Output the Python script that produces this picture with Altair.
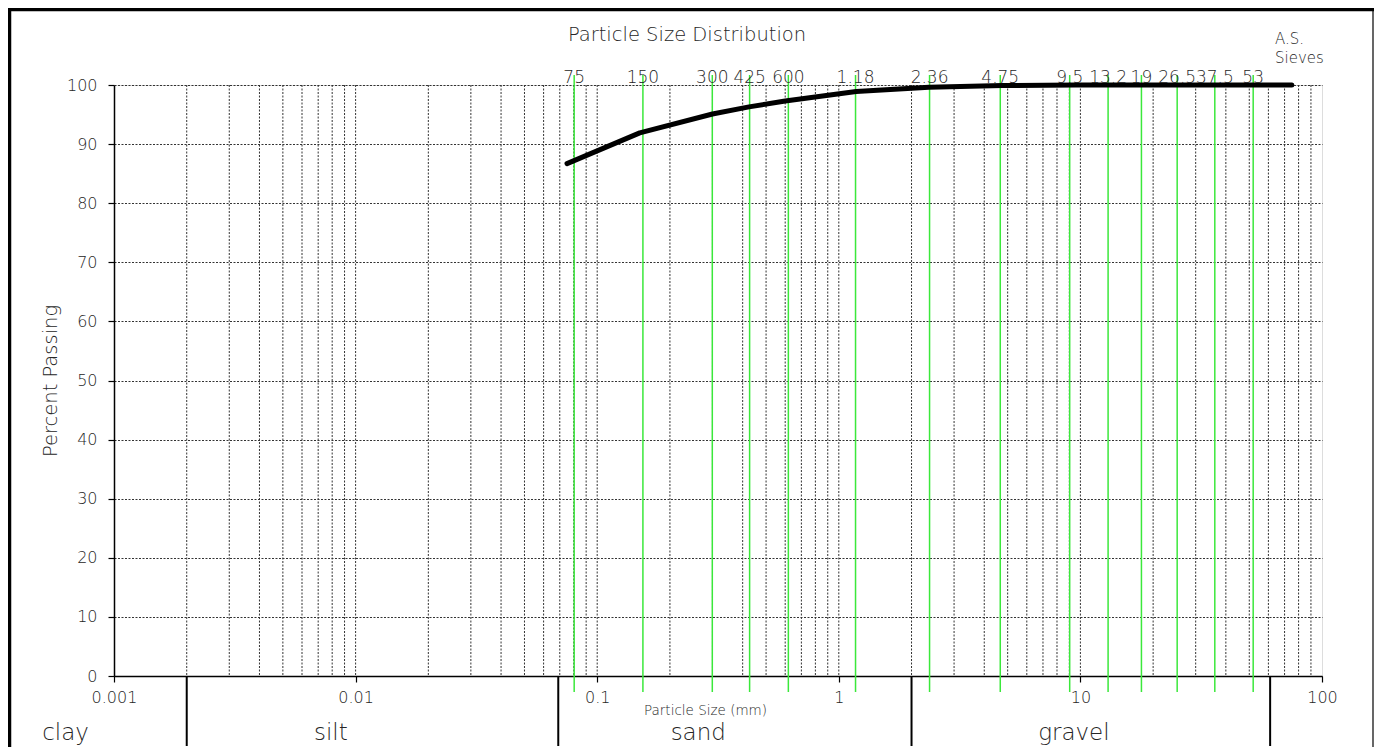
import json
import altair as alt
import pandas as pd

# ---------------- data ----------------
size_mm = [0.075, 0.15, 0.3, 0.425, 0.6, 1.18, 2.36, 4.75, 9.5, 13.2, 19, 26.5, 37.5, 53, 75]
pct_passing = [86.7, 91.9, 95.1, 96.3, 97.3, 98.9, 99.6, 99.9, 100, 100, 100, 100, 100, 100, 100]

sieve_labels = ["75", "150", "300", "425", "600", "1.18", "2.36", "4.75",
                "9.5", "13.2", "19", "26.5", "37.5", "53"]
sieve_line_mm = [0.0803, 0.1546, 0.2995, 0.4274, 0.6183, 1.173, 2.375, 4.659,
                 9.03, 13.02, 17.89, 25.15, 36.0, 51.9]

zone_names = ["clay", "silt", "sand", "gravel"]
zone_label_mm = [0.00063, 0.0079, 0.262, 9.4]
zone_bounds_mm = [0.002, 0.069, 2, 61]

decade_ticks = [0.001, 0.01, 0.1, 1, 10, 100]
decade_labels = ["0.001", "0.01", "0.1", "1", "10", "100"]
grid_mm = [0.002, 0.003, 0.004, 0.005, 0.006, 0.007, 0.008, 0.009,
           0.01, 0.02, 0.03, 0.04, 0.05, 0.06, 0.07, 0.08, 0.09,
           0.1, 0.2, 0.3, 0.4, 0.5, 0.6, 0.7, 0.8, 0.9,
           1, 2, 3, 4, 5, 6, 7, 8, 9,
           10, 20, 30, 40, 50, 60, 70, 80, 90]
pct_ticks = [0, 10, 20, 30, 40, 50, 60, 70, 80, 90, 100]

title_text = "Particle Size Distribution"
legend_text = "A.S.\nSieves"

# ---------------- styling ----------------
FONT = "DejaVu Sans"
FW = 200
TXT = "#262626"
W, H = 1208, 591

label_expr = "indexof({v}, datum.value) >= 0 ? {l}[indexof({v}, datum.value)] : ''".format(
    v=json.dumps(decade_ticks), l=json.dumps(decade_labels))

xscale = alt.Scale(type="log", domain=[0.001, 100], nice=False)
xaxis = alt.Axis(values=decade_ticks, labelExpr=label_expr, grid=False,
                 tickSize=6, tickColor="black", tickWidth=1.2,
                 domainColor="black", domainWidth=1.5,
                 labelFont=FONT, labelFontSize=16, labelFontWeight=FW, labelColor=TXT,
                 labelPadding=7, labelOverlap=False, labelFlush=False,
                 title="Particle Size (mm)", titleFont=FONT, titleFontSize=13.5,
                 titleFontWeight=FW, titleColor=TXT, titleX=591, titleY=34,
                 titleBaseline="middle", titleAlign="center")
yscale = alt.Scale(domain=[0, 100], nice=False, zero=True)
yaxis = alt.Axis(values=pct_ticks, grid=True, gridDash=[2, 1.5], gridColor="#333",
                 gridWidth=1, tickSize=6, tickColor="black", tickWidth=1.2,
                 domainColor="black", domainWidth=1.5,
                 labelFont=FONT, labelFontSize=16, labelFontWeight=FW, labelColor=TXT,
                 labelPadding=11,
                 title="Percent Passing", titleFont=FONT, titleFontSize=19.5,
                 titleFontWeight=FW, titleColor=TXT, titleX=-64, titleY=H / 2,
                 titleAngle=-90, titleBaseline="middle", titleAlign="center")

X = alt.X("mm:Q", scale=xscale, axis=xaxis)

curve_df = pd.DataFrame({"mm": size_mm, "pct": pct_passing})
sieve_df = pd.DataFrame({"mm": sieve_line_mm, "label": sieve_labels})
grid_df = pd.DataFrame({"mm": grid_mm})
bounds_df = pd.DataFrame({"mm": zone_bounds_mm})
zones_df = pd.DataFrame({"mm": zone_label_mm, "zone": zone_names})
one = pd.DataFrame({"t": [0]})

grid_v = alt.Chart(grid_df).mark_rule(strokeDash=[2, 1.5], color="#333", strokeWidth=1).encode(
    x=X, y=alt.value(0), y2=alt.value(H))

green = alt.Chart(sieve_df).mark_rule(color="#3be83b", strokeWidth=1.5).encode(
    x=X, y=alt.value(-10), y2=alt.value(H + 16))

sieve_txt = alt.Chart(sieve_df).mark_text(font=FONT, fontSize=17, fontWeight=FW, color=TXT,
                                          baseline="alphabetic").encode(
    x=X, y=alt.value(-2), text="label:N")

curve = alt.Chart(curve_df).mark_line(color="black", strokeWidth=5, strokeCap="round",
                                      strokeJoin="round").encode(
    x=X, y=alt.Y("pct:Q", scale=yscale, axis=yaxis))

bounds = alt.Chart(bounds_df).mark_rule(color="black", strokeWidth=2).encode(
    x=X, y=alt.value(H + 1), y2=alt.value(H + 70))

zones = alt.Chart(zones_df).mark_text(font=FONT, fontSize=23, fontWeight=FW, color=TXT,
                                      baseline="alphabetic").encode(
    x=X, y=alt.value(655), text="zone:N")

title = alt.Chart(one).mark_text(font=FONT, fontSize=19.5, fontWeight=FW, color=TXT,
                                 baseline="middle", text=title_text).encode(
    x=alt.value(573), y=alt.value(-50))

legend = alt.Chart(one).mark_text(font=FONT, fontSize=15, fontWeight=FW, color=TXT,
                                  align="left", baseline="top", lineBreak="\n", lineHeight=19,
                                  text=legend_text).encode(
    x=alt.value(1161), y=alt.value(-53))

frame_top = alt.Chart(one).mark_rule(color="black", strokeWidth=3.5).encode(
    x=alt.value(-106), x2=alt.value(1260), y=alt.value(-75.5))
frame_left = alt.Chart(one).mark_rule(color="black", strokeWidth=3.5).encode(
    x=alt.value(-104.5), y=alt.value(-77), y2=alt.value(662))
frame_right = alt.Chart(one).mark_rule(color="black", strokeWidth=1.2).encode(
    x=alt.value(1259), y=alt.value(-77), y2=alt.value(662))

chart = alt.layer(
    grid_v, green, bounds, curve, sieve_txt, zones, title, legend,
    frame_top, frame_left, frame_right
).properties(
    width=W, height=H,
    autosize=alt.AutoSizeParams(type="none"),
    padding={"left": 106, "top": 77, "right": 52, "bottom": 71},
).configure_view(stroke="black", strokeWidth=1.5).configure(background="white")

chart.save("out.html", embed_options={"renderer": "svg", "actions": False})
